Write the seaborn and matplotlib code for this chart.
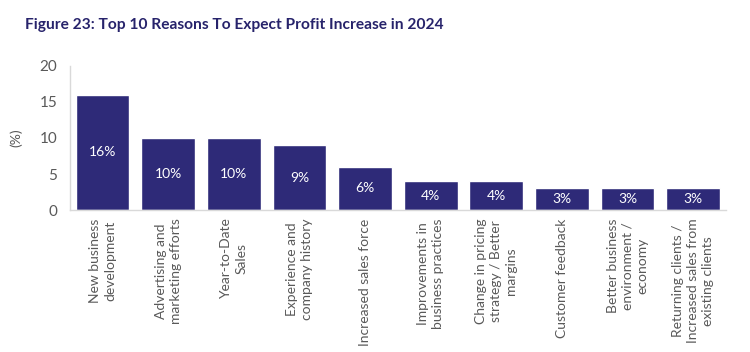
import matplotlib
matplotlib.use("Agg")
import matplotlib.pyplot as plt
import seaborn as sns
import pandas as pd

# Dados do gráfico
reasons = [
    "New business\ndevelopment",
    "Advertising and\nmarketing efforts",
    "Year-to-Date\nSales",
    "Experience and\ncompany history",
    "Increased sales force",
    "Improvements in\nbusiness practices",
    "Change in pricing\nstrategy / Better\nmargins",
    "Customer feedback",
    "Better business\nenvironment /\neconomy",
    "Returning clients /\nIncreased sales from\nexisting clients",
]
values = [16, 10, 10, 9, 6, 4, 4, 3, 3, 3]
y_ticks = [0, 5, 10, 15, 20]

df = pd.DataFrame({"reason": reasons, "value": values})

sns.set_style("white")
plt.rcParams["font.family"] = ["Lato", "DejaVu Sans"]

navy = "#2e2a78"
gray = "#595959"

fig = plt.figure(figsize=(7.5, 3.52), dpi=100)
ax = fig.add_axes([0.093, 0.403, 0.875, 0.41])

sns.barplot(data=df, x="reason", y="value", color=navy, saturation=1,
            width=0.82, ax=ax)

ax.bar_label(ax.containers[0], labels=[f"{v}%" for v in values],
             label_type="center", color="white", fontsize=10)

ax.set_ylim(0, 20)
ax.set_xlim(-0.5, 9.5)
ax.set_yticks(y_ticks)
ax.tick_params(axis="y", labelsize=11, colors=gray, length=0, pad=9)
ax.tick_params(axis="x", length=0, pad=6)
ax.set_xticks(range(len(reasons)))
ax.set_xticklabels(reasons, rotation=90, ha="center", va="top",
                   multialignment="center", fontsize=10, color=gray,
                   linespacing=1.3)
ax.set_xlabel("")
ax.set_ylabel("(%)", fontsize=10, color=gray, labelpad=12)

sns.despine(ax=ax, top=True, right=True)
for side in ["left", "bottom"]:
    ax.spines[side].set_color("#d9d9d9")
    ax.spines[side].set_linewidth(1)

fig.text(0.033, 0.93, "Figure 23: Top 10 Reasons To Expect Profit Increase in 2024",
         fontsize=11.2, fontweight="bold", color="#27236b", ha="left", va="center")

fig.savefig("out.png", dpi=100)
